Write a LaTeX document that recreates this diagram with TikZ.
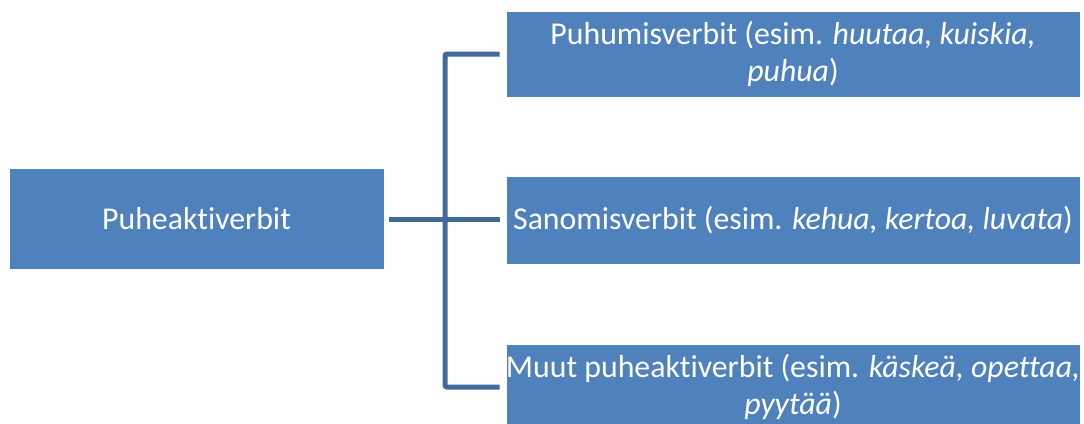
\documentclass[tikz,border=0pt]{standalone}
\usepackage{fontspec}
\setmainfont{Carlito}[Ligatures=NoCommon]
\usepackage{xcolor}
\usetikzlibrary{positioning}
\definecolor{boxblue}{HTML}{4F81BD}
\definecolor{linkblue}{HTML}{41699C}

\begin{document}
\begin{tikzpicture}[x=1pt, y=-1pt,
  font=\fontsize{31.8}{37}\selectfont,
  b/.style={fill=boxblue,draw=white,line width=0.8pt,text=white,align=center,inner sep=0pt},
  root/.style={b,minimum width=375pt,minimum height=101pt},
  leaf/.style={b,minimum width=574pt,minimum height=86pt},
  link/.style={draw=linkblue,line width=5pt,rounded corners=2pt}]
\useasboundingbox (0,0) rectangle (1084,423);
\node[root] (root) at (196.5,218.5) {Puheaktiverbit};
\node[leaf] (puhu) at (793,54) {Puhumisverbit (esim. \textit{huutaa, kuiskia,}\\\textit{puhua})};
\node[leaf,minimum height=88pt] (sano) at (793,220) {Sanomisverbit (esim. \textit{kehua, kertoa, luvata})};
\node[leaf] (muut) at (793,387) {Muut puheaktiverbit (esim. \textit{käskeä, opettaa,}\\\textit{pyytää})};
\coordinate (fork) at (445,219);
\draw[link] ([xshift=5pt]root.east |- fork) -- ([xshift=-6pt]sano.west |- fork);
\draw[link] ([xshift=-6pt]puhu.west) -- (fork |- puhu.west) -- (fork |- muut.west) -- ([xshift=-6pt]muut.west) ;
\end{tikzpicture}
\end{document}
